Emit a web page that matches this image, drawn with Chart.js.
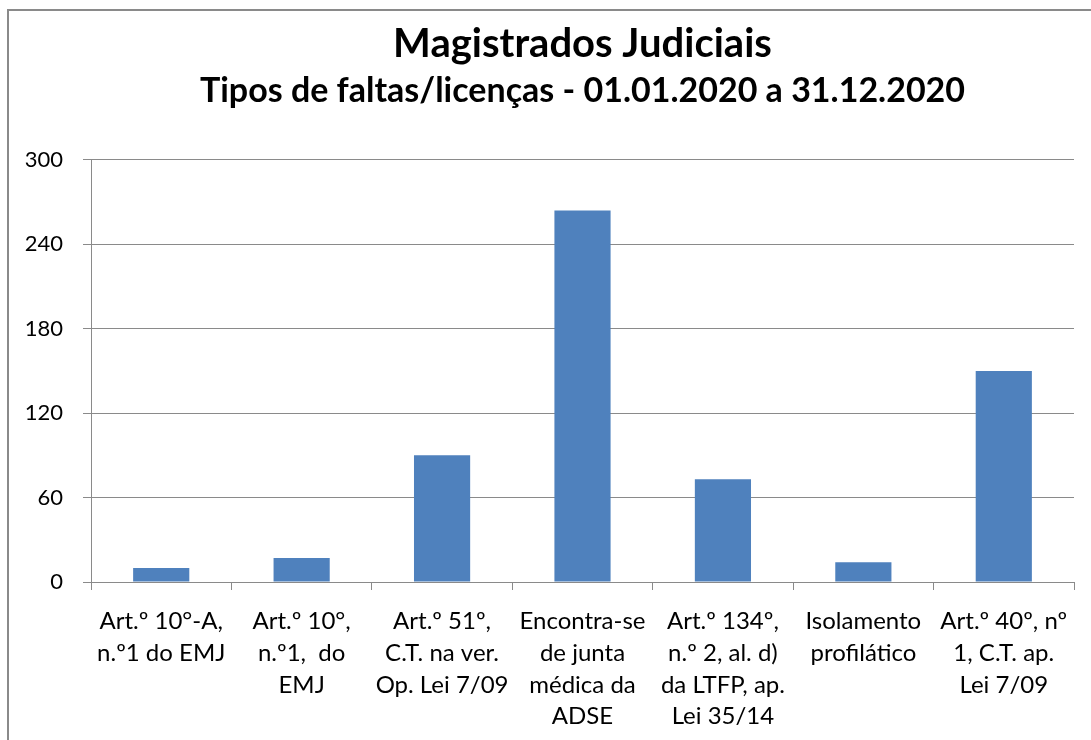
<!DOCTYPE html>
<html>
<head>
<meta charset="utf-8">
<script src="https://cdn.jsdelivr.net/npm/chart.js@4/dist/chart.umd.min.js"></script>
<style>
  html, body { margin: 0; padding: 0; background: #ffffff; overflow: hidden; }
  #wrap { position: relative; width: 1091px; height: 740px; }
  #frame { position: absolute; left: 7px; top: 9px; width: 1200px; height: 800px;
           border-left: 2px solid #8a8a8a; border-top: 2px solid #8a8a8a; pointer-events: none; }
  canvas { position: absolute; left: 0; top: 0; }
</style>
</head>
<body>
<div id="wrap">
  <div id="frame"></div>
  <canvas id="c" width="1091" height="740"></canvas>
</div>
<script>
const titleText = "Magistrados Judiciais";
const subtitleText = "Tipos de faltas/licenças - 01.01.2020 a 31.12.2020";
const categories = [
  ["Art.º 10°-A,", "n.º1 do EMJ"],
  ["Art.º 10°,", "n.º1,  do", "EMJ"],
  ["Art.º 51º,", "C.T. na ver.", "Op. Lei 7/09"],
  ["Encontra-se", "de junta", "médica da", "ADSE"],
  ["Art.º 134º,", "n.º 2, al. d)", "da LTFP, ap.", "Lei 35/14"],
  ["Isolamento", "profilático"],
  ["Art.º 40º, nº", "1, C.T. ap.", "Lei 7/09"]
];
const values = [10, 17, 90, 264, 73, 14, 150];
const yTicks = [0, 60, 120, 180, 240, 300];

const gridColor = "#8a8a8a";
const fontFamily = "Lato, 'Open Sans', sans-serif";

new Chart(document.getElementById("c"), {
  type: "bar",
  data: {
    labels: categories,
    datasets: [{
      data: values,
      backgroundColor: "#4F81BD",
      borderWidth: 0,
      categoryPercentage: 1.0,
      barPercentage: 0.4
    }]
  },
  options: {
    responsive: false,
    animation: false,
    devicePixelRatio: 1,
    layout: { padding: { left: 0, right: 17, top: 0, bottom: 0 } },
    plugins: {
      legend: { display: false },
      tooltip: { enabled: false },
      title: {
        display: true,
        text: titleText,
        fullSize: false,
        color: "#000000",
        font: { family: fontFamily, size: 40, weight: "bold", lineHeight: 1.2 },
        padding: { top: 20, bottom: 0 }
      },
      subtitle: {
        display: true,
        text: subtitleText,
        fullSize: false,
        color: "#000000",
        font: { family: fontFamily, size: 34, weight: "bold", lineHeight: 1.2 },
        padding: { top: 3, bottom: 48 }
      }
    },
    scales: {
      x: {
        grid: {
          display: true,
          drawOnChartArea: false,
          drawTicks: true,
          tickLength: 8,
          offset: true,
          color: gridColor,
          lineWidth: 1
        },
        border: { display: true, color: gridColor, width: 1 },
        ticks: {
          color: "#000000",
          font: { family: fontFamily, size: 24, lineHeight: 1.33 },
          padding: 15,
          maxRotation: 0,
          minRotation: 0,
          autoSkip: false
        },
        afterFit: (scale) => { scale.height = 158; }
      },
      y: {
        min: 0,
        max: 300,
        afterBuildTicks: (scale) => { scale.ticks = yTicks.map(v => ({ value: v })); },
        grid: {
          color: gridColor,
          lineWidth: 1,
          drawTicks: true,
          tickLength: 8
        },
        border: { display: true, color: gridColor, width: 1 },
        ticks: {
          color: "#000000",
          font: { family: fontFamily, size: 22 },
          padding: 20
        },
        afterFit: (scale) => { scale.width = 91; }
      }
    }
  }
});
</script>
</body>
</html>
